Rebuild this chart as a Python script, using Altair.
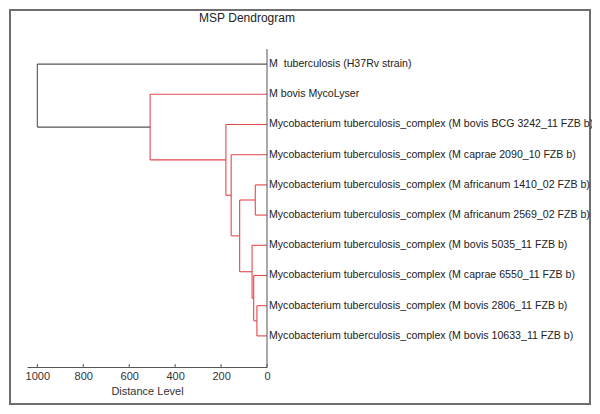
import altair as alt
import pandas as pd

# ---- data ----
title_text = "MSP Dendrogram"
leaf_labels = [
    "M\u00a0 tuberculosis (H37Rv strain)",
    "M bovis MycoLyser",
    "Mycobacterium tuberculosis_complex (M bovis BCG 3242_11 FZB b)",
    "Mycobacterium tuberculosis_complex (M caprae 2090_10 FZB b)",
    "Mycobacterium tuberculosis_complex (M africanum 1410_02 FZB b)",
    "Mycobacterium tuberculosis_complex (M africanum 2569_02 FZB b)",
    "Mycobacterium tuberculosis_complex (M bovis 5035_11 FZB b)",
    "Mycobacterium tuberculosis_complex (M caprae 6550_11 FZB b)",
    "Mycobacterium tuberculosis_complex (M bovis 2806_11 FZB b)",
    "Mycobacterium tuberculosis_complex (M bovis 10633_11 FZB b)",
]
merge_names = ["H", "G", "F", "E", "D", "C", "B", "A", "R"]
merge_left = [8, 7, 6, 4, "E", 3, 2, 1, 0]
merge_right = [9, "H", "G", 5, "F", "D", "C", "B", "A"]
merge_height = [44, 58, 65, 51, 119, 156, 179, 509, 1000]
merge_color = ["red", "red", "red", "red", "red", "red", "red", "red", "black"]
x_ticks = [0, 200, 400, 600, 800, 1000]

# ---- build segments from the tree ----
pos = {i: (0.0, i + 1.0) for i in range(len(leaf_labels))}  # (height, y)
segs = []
for name, l, r, h, c in zip(merge_names, merge_left, merge_right, merge_height, merge_color):
    hl, yl = pos[l]
    hr, yr = pos[r]
    segs.append(dict(x=h, x2=h, y=yl, y2=yr, c=c))
    segs.append(dict(x=hl, x2=h, y=yl, y2=yl, c=c))
    segs.append(dict(x=hr, x2=h, y=yr, y2=yr, c=c))
    pos[name] = (h, (yl + yr) / 2)
seg_df = pd.DataFrame(segs)
leaf_df = pd.DataFrame({"label": leaf_labels, "y": [i + 1 for i in range(len(leaf_labels))], "x": 0})
tick_df = pd.DataFrame({"x": x_ticks})
zero_df = pd.DataFrame({"x": [0], "t": [title_text]})

W, H = 240, 318
FONT = "Liberation Sans"

xscale = alt.Scale(domain=[1045, 0], nice=False, zero=False)
yscale = alt.Scale(domain=[0.5, 11.03], reverse=True, nice=False, zero=False)

xaxis = alt.Axis(
    values=x_ticks, format="d", ticks=False, grid=False, domainColor="#555555", domainWidth=1,
    labelFont=FONT, labelFontSize=11, labelColor="#333333", labelPadding=3,
    title="Distance Level", titleFont=FONT, titleFontSize=11, titleFontWeight="normal",
    titleColor="#333333", titlePadding=4, labelFlush=False,
)

lines = alt.Chart(seg_df).mark_rule(strokeWidth=1.1).encode(
    x=alt.X("x:Q", scale=xscale, axis=xaxis),
    x2="x2:Q",
    y=alt.Y("y:Q", scale=yscale, axis=None),
    y2="y2:Q",
    color=alt.Color("c:N", scale=alt.Scale(domain=["red", "black"], range=["#e5474b", "#555555"]), legend=None),
)

vaxis = alt.Chart(zero_df).mark_rule(color="#555555", strokeWidth=1).encode(
    x=alt.X("x:Q", scale=xscale),
    y=alt.value(0),
    y2=alt.value(H),
)

ticks = alt.Chart(tick_df).mark_rule(color="#555555", strokeWidth=1).encode(
    x=alt.X("x:Q", scale=xscale),
    y=alt.value(H - 3),
    y2=alt.value(H),
)

labels = alt.Chart(leaf_df).mark_text(
    align="left", baseline="middle", dx=2, font=FONT, fontSize=10.6, color="#222222"
).encode(
    x=alt.X("x:Q", scale=xscale),
    y=alt.Y("y:Q", scale=yscale),
    text="label:N",
)

title = alt.Chart(zero_df).mark_text(
    align="center", baseline="middle", font=FONT, fontSize=12, color="#222222"
).encode(
    x=alt.value(220), y=alt.value(-31), text="t:N",
)

frame = alt.Chart(zero_df).mark_rect(fill="transparent", stroke="#6e6e6e", strokeWidth=2).encode(
    x=alt.value(-17), x2=alt.value(563), y=alt.value(-39), y2=alt.value(355),
)

chart = alt.layer(frame, lines, vaxis, ticks, labels, title).properties(
    width=W, height=H,
    background="white",
    autosize=alt.AutoSizeParams(type="none"),
    padding={"left": 19, "top": 41, "right": 325, "bottom": 39},
).configure_view(strokeWidth=0, stroke="transparent")

chart.save("out.html", embed_options={"renderer": "svg", "actions": False})
